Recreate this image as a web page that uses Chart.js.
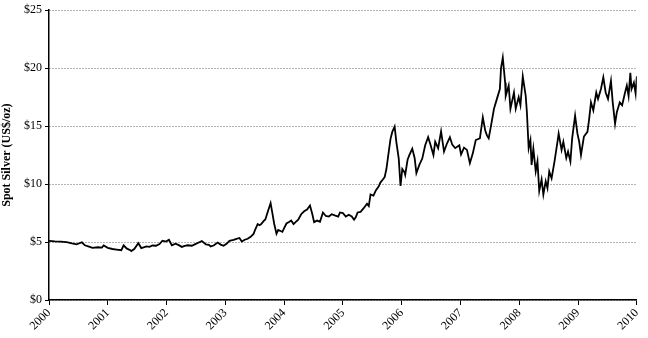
<!DOCTYPE html>
<html>
<head>
<meta charset="utf-8">
<script src="https://cdn.jsdelivr.net/npm/chart.js@4"></script>
<style>
  html, body { margin: 0; padding: 0; background: #fff; }
  #wrap { width: 648px; height: 338px; }
</style>
</head>
<body>
<div id="wrap"><canvas id="silverChart" width="648" height="338"></canvas></div>
<script>
// spot silver, decimal year -> US$/oz
const years = [
    2000.00, 2000.10, 2000.20, 2000.30, 2000.39, 2000.47, 2000.56, 2000.61, 2000.68, 2000.74,
    2000.83, 2000.90, 2000.93, 2001.00, 2001.08, 2001.15, 2001.23, 2001.27, 2001.32, 2001.39,
    2001.40, 2001.45, 2001.52, 2001.57, 2001.66, 2001.71, 2001.76, 2001.82, 2001.88, 2001.93,
    2001.99, 2002.04, 2002.09, 2002.15, 2002.20, 2002.26, 2002.31, 2002.36, 2002.43, 2002.48,
    2002.53, 2002.60, 2002.67, 2002.72, 2002.75, 2002.80, 2002.87, 2002.92, 2002.97, 2003.02,
    2003.07, 2003.14, 2003.19, 2003.24, 2003.28, 2003.33, 2003.38, 2003.43, 2003.48, 2003.51,
    2003.55, 2003.58, 2003.61, 2003.65, 2003.68, 2003.73, 2003.77, 2003.80, 2003.83, 2003.87,
    2003.90, 2003.94, 2003.97, 2004.00, 2004.04, 2004.09, 2004.12, 2004.16, 2004.19, 2004.24,
    2004.29, 2004.34, 2004.39, 2004.44, 2004.48, 2004.51, 2004.56, 2004.61, 2004.66, 2004.71,
    2004.76, 2004.81, 2004.86, 2004.92, 2004.95, 2005.00, 2005.05, 2005.10, 2005.15, 2005.19,
    2005.22, 2005.25, 2005.30, 2005.35, 2005.41, 2005.44, 2005.47, 2005.52, 2005.56, 2005.61,
    2005.64, 2005.68, 2005.71, 2005.74, 2005.78, 2005.81, 2005.84, 2005.88, 2005.91, 2005.95,
    2005.98, 2006.01, 2006.05, 2006.06, 2006.10, 2006.13, 2006.18, 2006.22, 2006.25, 2006.30,
    2006.35, 2006.40, 2006.45, 2006.49, 2006.54, 2006.57, 2006.62, 2006.67, 2006.72, 2006.77,
    2006.82, 2006.86, 2006.91, 2006.98, 2007.01, 2007.06, 2007.11, 2007.16, 2007.21, 2007.26,
    2007.33, 2007.38, 2007.42, 2007.45, 2007.48, 2007.52, 2007.57, 2007.62, 2007.67, 2007.69,
    2007.72, 2007.76, 2007.77, 2007.82, 2007.85, 2007.91, 2007.94, 2007.99, 2008.02, 2008.06,
    2008.11, 2008.13, 2008.16, 2008.19, 2008.21, 2008.24, 2008.28, 2008.31, 2008.34, 2008.38,
    2008.41, 2008.45, 2008.48, 2008.51, 2008.55, 2008.60, 2008.65, 2008.67, 2008.72, 2008.75,
    2008.80, 2008.83, 2008.87, 2008.90, 2008.95, 2008.99, 2009.02, 2009.05, 2009.10, 2009.16,
    2009.19, 2009.22, 2009.26, 2009.31, 2009.34, 2009.39, 2009.43, 2009.47, 2009.51, 2009.56,
    2009.59, 2009.63, 2009.66, 2009.71, 2009.75, 2009.80, 2009.83, 2009.86, 2009.89, 2009.91,
    2009.95, 2009.98, 2010.00
];

const prices = [
    5.10, 5.06, 5.04, 5.00, 4.88, 4.80, 4.98, 4.72, 4.60, 4.50,
    4.55, 4.52, 4.70, 4.50, 4.40, 4.35, 4.30, 4.72, 4.45, 4.28,
    4.22, 4.40, 4.90, 4.48, 4.62, 4.58, 4.70, 4.68, 4.82, 5.12,
    5.04, 5.20, 4.72, 4.85, 4.75, 4.58, 4.66, 4.72, 4.68, 4.80,
    4.92, 5.08, 4.80, 4.75, 4.62, 4.70, 4.95, 4.78, 4.68, 4.85,
    5.10, 5.18, 5.28, 5.35, 5.05, 5.20, 5.28, 5.45, 5.70, 6.10,
    6.55, 6.45, 6.55, 6.80, 6.95, 7.75, 8.35, 7.50, 6.60, 5.72,
    6.05, 5.95, 5.88, 6.20, 6.60, 6.75, 6.85, 6.55, 6.70, 6.92,
    7.40, 7.65, 7.80, 8.15, 7.40, 6.72, 6.85, 6.75, 7.55, 7.25,
    7.20, 7.40, 7.30, 7.20, 7.55, 7.50, 7.20, 7.35, 7.20, 6.92,
    7.15, 7.55, 7.60, 7.90, 8.30, 8.10, 9.10, 9.00, 9.45, 9.80,
    10.15, 10.40, 10.60, 11.30, 12.80, 13.90, 14.50, 14.95, 13.60, 12.20,
    9.85, 11.30, 11.00, 10.80, 12.10, 12.50, 13.05, 12.25, 10.95, 11.65,
    12.20, 13.35, 14.05, 13.40, 12.50, 13.65, 13.10, 14.55, 12.80, 13.50,
    14.05, 13.40, 13.10, 13.35, 12.55, 13.15, 12.95, 11.80, 12.65, 13.80,
    13.95, 15.75, 14.65, 14.20, 13.95, 15.05, 16.50, 17.35, 18.20, 20.00,
    20.90, 18.75, 17.60, 18.50, 16.50, 17.90, 16.50, 17.50, 16.80, 19.30,
    17.60, 16.20, 13.10, 13.80, 11.65, 13.05, 11.10, 11.95, 9.40, 10.40,
    9.10, 10.25, 9.65, 11.10, 10.50, 11.95, 13.65, 14.35, 12.95, 13.65,
    12.25, 12.80, 11.95, 13.95, 15.90, 14.35, 13.65, 12.50, 14.10, 14.50,
    15.65, 17.05, 16.35, 17.90, 17.35, 18.20, 19.20, 17.90, 17.35, 18.90,
    17.05, 15.20, 16.20, 17.05, 16.80, 17.90, 18.50, 17.60, 19.60, 18.20,
    18.75, 17.80, 19.30
];

const yTicks = [0, 5, 10, 15, 20, 25];
const xTicks = [2000, 2001, 2002, 2003, 2004, 2005, 2006, 2007, 2008, 2009, 2010];

const serif = '"Liberation Serif", "Times New Roman", serif';

const points = years.map((yr, i) => ({ x: yr, y: prices[i] }));

new Chart(document.getElementById('silverChart').getContext('2d'), {
    type: 'line',
    data: {
        datasets: [{
            data: points,
            borderColor: '#000',
            borderWidth: 1.8,
            pointRadius: 0,
            tension: 0,
            fill: false,
        }],
    },
    options: {
        responsive: false,
        animation: false,
        layout: { padding: { left: 0, top: 7, right: 7, bottom: 0 } },
        plugins: { legend: { display: false }, tooltip: { enabled: false } },
        scales: {
            x: {
                type: 'linear',
                min: xTicks[0],
                max: xTicks[xTicks.length - 1],
                afterBuildTicks: (scale) => { scale.ticks = xTicks.map((v) => ({ value: v })); },
                afterFit: (scale) => { scale.height = 38; },
                grid: { drawOnChartArea: false, drawTicks: true, tickLength: 5, tickColor: '#000' },
                border: { color: '#000', width: 1.5 },
                ticks: {
                    color: '#000',
                    font: { family: serif, size: 12 },
                    minRotation: 45,
                    maxRotation: 45,
                    padding: 1,
                    callback: (v) => String(v),
                },
            },
            y: {
                min: yTicks[0],
                max: yTicks[yTicks.length - 1],
                afterBuildTicks: (scale) => { scale.ticks = yTicks.map((v) => ({ value: v })); },
                afterFit: (scale) => { scale.width = 49; },
                grid: { color: '#666', tickColor: '#000', tickLength: 4, lineWidth: 1 },
                border: { color: '#000', width: 1.5, dash: [1, 2] },
                ticks: {
                    color: '#000',
                    font: { family: serif, size: 12 },
                    padding: 3,
                    callback: (v) => '$' + v,
                },
                title: {
                    display: true,
                    text: 'Spot Silver (US$/oz)',
                    color: '#000',
                    font: { family: serif, size: 12, weight: 'bold' },
                    padding: { top: 0, bottom: 2 },
                },
            },
        },
    },
});
</script>
</body>
</html>
